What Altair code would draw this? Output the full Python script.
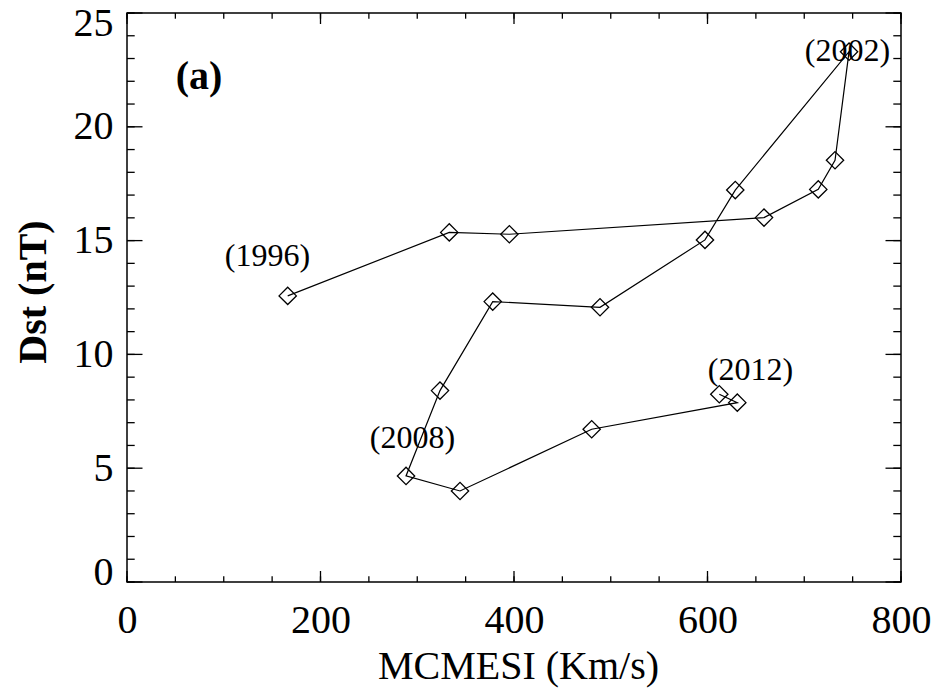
import altair as alt
import pandas as pd

# ---- data ----
years = [1996, 1997, 1998, 1999, 2000, 2001, 2002, 2003, 2004, 2005, 2006,
         2007, 2008, 2009, 2010, 2011, 2012]
mcmesi = [166.1, 333.1, 395.2, 658.4, 714.5, 731.8, 746.3, 628.7, 597.4, 488.9,
          378.0, 323.5, 288.4, 344.2, 480.3, 630.8, 612.2]
dst = [12.57, 15.36, 15.28, 16.01, 17.25, 18.53, 23.30, 17.22, 15.03, 12.07,
       12.32, 8.41, 4.66, 4.00, 6.71, 7.88, 8.25]

ann_text = ["(1996)", "(2002)", "(2008)", "(2012)"]
ann_x = [145.2, 744.7, 295.1, 644.4]
ann_y = [14.32, 23.33, 6.33, 9.31]

panel_text = ["(a)"]
panel_x = [74.4]
panel_y = [22.17]

x_major = [0, 200, 400, 600, 800]
x_minor = list(range(0, 801, 50))
y_major = [0, 5, 10, 15, 20, 25]
y_minor = list(range(0, 26, 1))

W, H = 774, 569
FONT = "Liberation Serif"

df = pd.DataFrame({"year": years, "x": mcmesi, "y": dst})
ann = pd.DataFrame({"t": ann_text, "x": ann_x, "y": ann_y})
pan = pd.DataFrame({"t": panel_text, "x": panel_x, "y": panel_y})

xs = alt.Scale(domain=[0, 800], nice=False, zero=False)
ys = alt.Scale(domain=[0, 25], nice=False, zero=False)

xaxis = alt.Axis(values=x_major, format="d", labelFont=FONT, labelFontSize=40,
                 labelColor="black", ticks=False, tickSize=0, domain=False,
                 grid=False, labelFlush=False, labelPadding=18,
                 title="MCMESI (Km/s)", titleFont=FONT, titleFontSize=40,
                 titleFontWeight="normal", titleColor="black",
                 titleBaseline="alphabetic", titleY=96, titleX=391)
yaxis = alt.Axis(values=y_major, format="d", labelFont=FONT, labelFontSize=40,
                 labelColor="black", ticks=False, tickSize=0, domain=False,
                 grid=False, labelFlush=True, labelFlushOffset=10, labelPadding=14,
                 title="Dst (nT)", titleFont=FONT, titleFontSize=40,
                 titleFontWeight="bold", titleColor="black",
                 titleBaseline="alphabetic", titleX=-82, titleY=278.5,
                 titleAngle=270)

line = alt.Chart(df).mark_line(color="black", strokeWidth=1.2).encode(
    x=alt.X("x:Q", scale=xs, axis=xaxis),
    y=alt.Y("y:Q", scale=ys, axis=yaxis),
    order="year:O",
)
pts = alt.Chart(df).mark_point(shape="diamond", size=300, filled=False,
                               color="black", strokeWidth=1.3, opacity=1).encode(
    x=alt.X("x:Q", scale=xs, axis=xaxis),
    y=alt.Y("y:Q", scale=ys, axis=yaxis),
)
labels = alt.Chart(ann).mark_text(font=FONT, fontSize=32, color="black",
                                  align="center", baseline="middle").encode(
    x=alt.X("x:Q", scale=xs, axis=xaxis), y=alt.Y("y:Q", scale=ys, axis=yaxis),
    text="t:N")
panel = alt.Chart(pan).mark_text(font=FONT, fontSize=40, fontWeight="bold",
                                 color="black", align="center",
                                 baseline="middle").encode(
    x=alt.X("x:Q", scale=xs, axis=xaxis), y=alt.Y("y:Q", scale=ys, axis=yaxis),
    text="t:N")

def xticks(vals, length):
    d = pd.DataFrame({"x": vals})
    bottom = alt.Chart(d).mark_rule(color="black", strokeWidth=1.3).encode(
        x=alt.X("x:Q", scale=xs, axis=xaxis), y=alt.value(H), y2=alt.value(H - length))
    top = alt.Chart(d).mark_rule(color="black", strokeWidth=1.3).encode(
        x=alt.X("x:Q", scale=xs, axis=xaxis), y=alt.value(0), y2=alt.value(length))
    return [bottom, top]

def yticks(vals, length):
    d = pd.DataFrame({"y": vals})
    left = alt.Chart(d).mark_rule(color="black", strokeWidth=1.3).encode(
        y=alt.Y("y:Q", scale=ys, axis=yaxis), x=alt.value(0), x2=alt.value(length))
    right = alt.Chart(d).mark_rule(color="black", strokeWidth=1.3).encode(
        y=alt.Y("y:Q", scale=ys, axis=yaxis), x=alt.value(W), x2=alt.value(W - length))
    return [left, right]

layers = [line, pts, labels, panel]
layers += xticks(x_minor, 5.7) + xticks(x_major, 11)
layers += yticks(y_minor, 7.7) + yticks(y_major, 15.5)

chart = alt.layer(*layers).properties(
    width=W, height=H,
    autosize=alt.AutoSizeParams(type="none"),
    padding={"left": 127, "top": 13, "right": 36, "bottom": 110},
    background="white",
).configure_view(stroke="black", strokeWidth=1.5)

chart.save("out.html", embed_options={"renderer": "svg", "actions": False})
